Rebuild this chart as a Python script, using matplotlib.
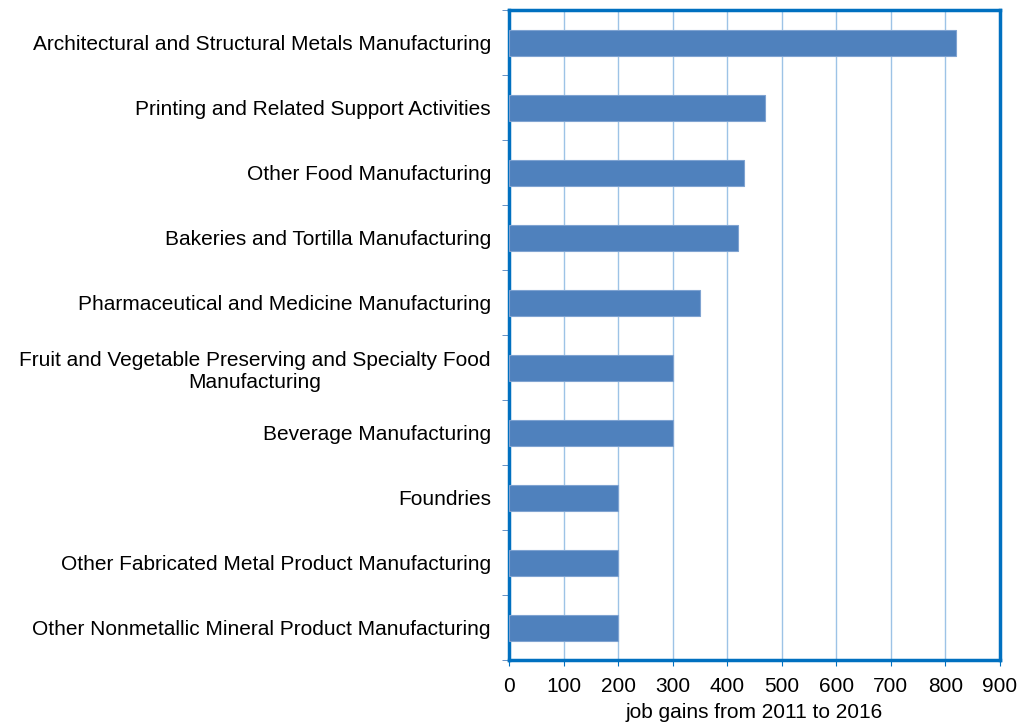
import matplotlib
matplotlib.use("Agg")
import matplotlib.pyplot as plt
import numpy as np

categories = [
    "Architectural and Structural Metals Manufacturing",
    "Printing and Related Support Activities",
    "Other Food Manufacturing",
    "Bakeries and Tortilla Manufacturing",
    "Pharmaceutical and Medicine Manufacturing",
    "Fruit and Vegetable Preserving and Specialty Food\nManufacturing",
    "Beverage Manufacturing",
    "Foundries",
    "Other Fabricated Metal Product Manufacturing",
    "Other Nonmetallic Mineral Product Manufacturing",
]
job_gains = [820, 470, 430, 420, 350, 300, 300, 200, 200, 200]
x_ticks = [0, 100, 200, 300, 400, 500, 600, 700, 800, 900]
x_label = "job gains from 2011 to 2016"

plt.rcParams["font.family"] = ["Liberation Sans", "DejaVu Sans"]

fig = plt.figure(figsize=(10.19, 7.24), dpi=100)
ax = fig.add_axes([0.4995, 0.0884, 0.4819, 0.8976])

y = np.arange(len(categories))
ax.barh(y, job_gains, height=0.4, color="#4F81BD", edgecolor="#7FA3D1",
        linewidth=0.8, zorder=3)

ax.set_xlim(0, 900)
ax.set_ylim(len(categories) - 0.5, -0.5)
ax.set_xticks(x_ticks)
ax.set_xticklabels([str(t) for t in x_ticks], fontsize=15)
ax.set_yticks(y)
ax.set_yticklabels(categories, fontsize=15, linespacing=1.25)
ax.tick_params(axis="y", length=0, pad=13)
ax.set_yticks(np.arange(len(categories) + 1) - 0.5, minor=True)
ax.tick_params(axis="y", which="minor", length=5, color="#4F81BD", direction="out")
ax.tick_params(axis="x", length=4, color="#0070C0", direction="out", pad=8)
for lbl in ax.get_yticklabels():
    lbl.set_horizontalalignment("right")
    lbl.set_multialignment("center")

ax.grid(axis="x", color="#9DC3E6", linewidth=1.0, zorder=0)
ax.set_axisbelow(True)

for side in ["top", "bottom", "left", "right"]:
    ax.spines[side].set_color("#0070C0")
    ax.spines[side].set_linewidth(2.5)

ax.set_xlabel(x_label, fontsize=15, labelpad=5)

fig.savefig("out.png", dpi=100)
